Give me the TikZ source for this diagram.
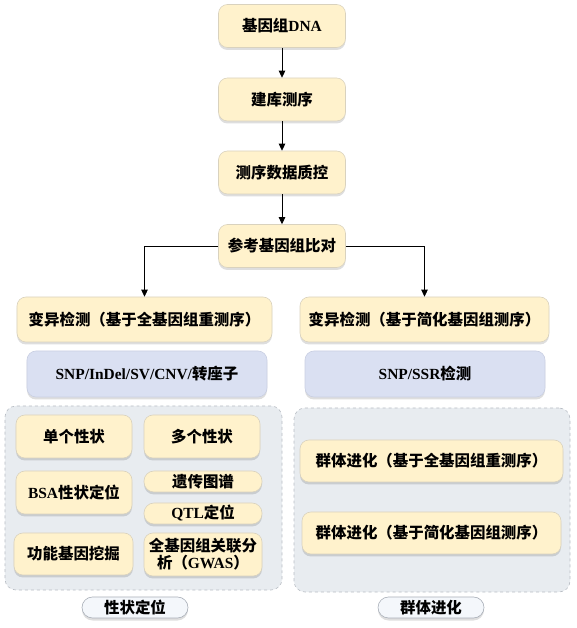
\documentclass[tikz,border=0pt]{standalone}
\usepackage{fontspec}
\setmainfont{Liberation Serif}
\newfontfamily\cjk{Noto Sans CJK SC}
\newcommand{\zh}[1]{{\cjk #1}}
\usepackage{xcolor}
\usepackage{tikz}
\usetikzlibrary{positioning,arrows.meta,shadows}

\definecolor{boxyellow}{HTML}{FFF2CC}
\definecolor{boxline}{HTML}{D9D2BE}
\definecolor{boxblue}{HTML}{DAE0F2}
\definecolor{blueline}{HTML}{C9CFE2}
\definecolor{panelgray}{HTML}{E8ECF0}
\definecolor{panelline}{HTML}{B9BEC5}
\definecolor{pillfill}{HTML}{F4F7FB}
\definecolor{pillline}{HTML}{A9AFB8}

\begin{document}
\begin{tikzpicture}[
  x=1bp, y=1bp,
  font=\fontsize{15.5}{18}\selectfont\bfseries,
  shade/.style={drop shadow={shadow xshift=0bp, shadow yshift=-2.5bp, fill=black, opacity=0.13}},
  stagebox/.style={draw=boxline, line width=0.6bp, rounded corners=9bp, fill=boxyellow,
                   align=center, inner sep=2bp, shade},
  mainbox/.style={stagebox, minimum width=127bp, minimum height=43bp},
  bluebox/.style={stagebox, fill=boxblue, draw=blueline, minimum width=240bp, minimum height=46bp},
  panel/.style={draw=panelline, dashed, line width=0.6bp, rounded corners=11bp, fill=panelgray},
  pill/.style={draw=pillline, line width=0.6bp, rounded corners=10.5bp, fill=pillfill,
               minimum width=106bp, minimum height=21bp, inner sep=1bp, shade},
  arr/.style={-{Triangle[length=7bp, width=6.5bp]}, line width=0.8bp}
]
\useasboundingbox (0,0) rectangle (577,628);
% ----- main pipeline (top -> bottom) -----
\node[mainbox] (dna)   at (282,602)   {\zh{基因组}DNA};
\node[mainbox] (lib)   at (282,528.5) {\zh{建库测序}};
\node[mainbox] (qc)    at (282,455.5) {\zh{测序数据质控}};
\node[mainbox] (align) at (282,382)   {\zh{参考基因组比对}};
\foreach \a/\b in {dna/lib, lib/qc, qc/align}{\draw[arr] (\a) -- (\b);}
% ----- two variant-calling branches -----
\node[stagebox, minimum width=255bp, minimum height=45bp] (varL) at (144.5,308.5)
  {\zh{变异检测（基于全基因组重测序）}};
\node[stagebox, minimum width=249bp, minimum height=45bp] (varR) at (424.5,308.5)
  {\zh{变异检测（基于简化基因组测序）}};
\draw[arr] (align.west) -| (varL.north);
\draw[arr] (align.east) -| (varR.north);
\node[bluebox] (snpL) at (147,254) {SNP/InDel/SV/CNV/\zh{转座子}};
\node[bluebox] (snpR) at (425,254) {SNP/SSR\zh{检测}};
% ----- dashed panels -----
\node[panel, minimum width=277bp, minimum height=184bp] (traitp) at (143.5,130) {};
\node[panel, minimum width=276bp, minimum height=184bp] (evop)   at (432,128)   {};
% ----- trait mapping boxes -----
\node[stagebox, minimum width=116bp, minimum height=43bp] (single) at (74,191.5)  {\zh{单个性状}};
\node[stagebox, minimum width=116bp, minimum height=43bp] (multi)  at (202,191.5) {\zh{多个性状}};
\node[stagebox, minimum width=116bp, minimum height=43bp] (bsa)    at (74,135.5)  {BSA\zh{性状定位}};
\node[stagebox, minimum width=118bp, minimum height=21bp, rounded corners=10bp] (gmap) at (203,146.5) {\zh{遗传图谱}};
\node[stagebox, minimum width=118bp, minimum height=21bp, rounded corners=10bp] (qtl)  at (203,114.5) {QTL\zh{定位}};
\node[stagebox, minimum width=119bp, minimum height=42bp] (gene)   at (73.5,74)   {\zh{功能基因挖掘}};
\node[stagebox, minimum width=118bp, minimum height=43bp, font=\fontsize{15.5}{17}\selectfont\bfseries] (gwas) at (203,73.5)
  {\zh{全基因组关联分}\\\zh{析（}GWAS\zh{）}};
% ----- population evolution boxes -----
\node[stagebox, minimum width=263bp, minimum height=42bp] (evoA) at (431.5,167) {\zh{群体进化（基于全基因组重测序）}};
\node[stagebox, minimum width=259bp, minimum height=42bp] (evoB) at (431.5,95)  {\zh{群体进化（基于简化基因组测序）}};
% ----- panel captions -----
\node[pill] (traitcap) at (135,20.5) {\zh{性状定位}};
\node[pill] (evocap)   at (431,20.5) {\zh{群体进化}};
\end{tikzpicture}
\end{document}
